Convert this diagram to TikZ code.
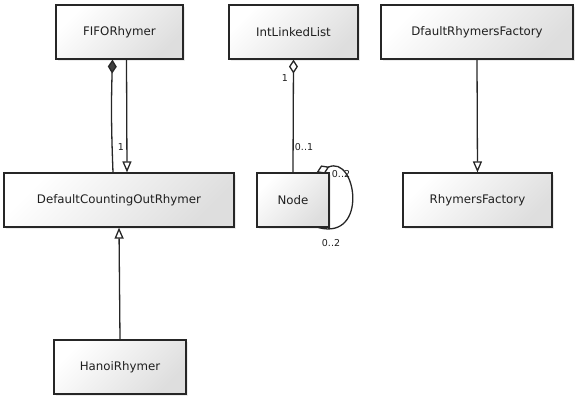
\documentclass[tikz,border=0pt]{standalone}
\usepackage{fontspec}
\setmainfont{DejaVu Sans}
\usetikzlibrary{arrows.meta,shadows}
\begin{document}
\begin{tikzpicture}[x=1pt, y=-1pt,
    every node/.style={font=\fontsize{11.8}{13}\selectfont, text=black!88},
    cls/.style={draw=black!85, line width=1.2pt, minimum height=54pt, inner sep=0pt,
        top color=white, bottom color=black!13, shading angle=45,
        drop shadow={opacity=0.15, shadow xshift=1.5pt, shadow yshift=-1.5pt}},
    lbl/.style={font=\fontsize{9.5}{11}\selectfont},
    conn/.style={draw=black!85, line width=1.3pt},
    gen/.style={conn, -{Triangle[open, width=9pt, length=11pt]}},
    comp/.style={conn, {Diamond[width=9pt, length=14pt, fill=black!75]}-},
    aggr/.style={conn, {Diamond[open, width=9pt, length=14pt]}-}]
    \useasboundingbox (0,0) rectangle (579,400);

    % classes
    \node[cls, minimum width=127pt] (FIFO) at (119.5,32) {FIFORhymer};
    \node[cls, minimum width=230pt] (DCOR) at (119,200) {DefaultCountingOutRhymer};
    \node[cls, minimum width=132pt] (Hanoi) at (120,367) {HanoiRhymer};
    \node[cls, minimum width=129pt] (List) at (293.5,32) {IntLinkedList};
    \node[cls, minimum width=72pt] (Node) at (293,200) {Node};
    \node[cls, minimum width=192pt] (DFactory) at (477,32) {DfaultRhymersFactory};
    \node[cls, minimum width=149pt] (Factory) at (477.5,200) {RhymersFactory};

    % FIFORhymer and DefaultCountingOutRhymer
    \draw[comp] ([xshift=-7pt]FIFO.south) to[bend right=2] ([xshift=-6pt]DCOR.north);
    \draw[gen] ([xshift=7pt]FIFO.south) -- ([xshift=8pt]DCOR.north);
    \node[lbl] (one) at (121,147) {1};

    \draw[gen] (Hanoi.north) -- (DCOR.south);

    % list and its nodes
    \draw[aggr] (List.south) -- (Node.north);
    \node[lbl] (listone) at (285,78) {1};
    \node[lbl] (nodeone) at (304,147) {0..1};
    \draw[aggr] ([xshift=-13pt]Node.north east) .. controls +(40,-18) and +(50,13) .. ([xshift=-11pt]Node.south east);
    \node[lbl] (nexttop) at (341,174) {0..2};
    \node[lbl] (nextbot) at (331,243) {0..2};

    \draw[gen] (DFactory.south) -- (Factory.north);
\end{tikzpicture}
\end{document}
